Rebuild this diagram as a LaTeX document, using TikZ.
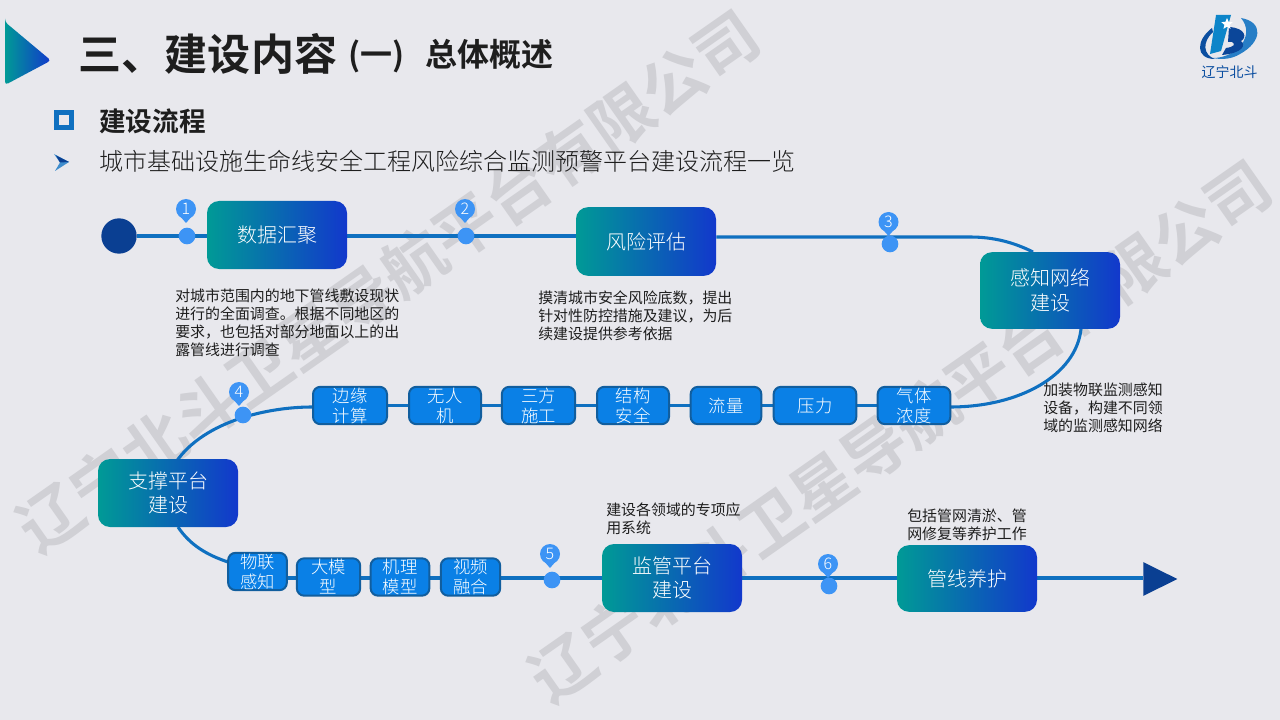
\documentclass[tikz,border=0pt]{standalone}
\usepackage{fontspec}
\setmainfont{Noto Sans CJK SC}[UprightFont=* Light,BoldFont=* Bold]
\newfontfamily\regfont{Noto Sans CJK SC}
\usetikzlibrary{shapes.geometric}
\definecolor{bgc}{HTML}{E8E8ED}
\definecolor{wmc}{HTML}{D0D0D5}
\definecolor{flowc}{HTML}{0F70C0}
\definecolor{teal1}{HTML}{009A96}
\definecolor{blue1}{HTML}{1238CC}
\definecolor{chip}{HTML}{0A80E6}
\definecolor{chipb}{HTML}{115E9E}
\definecolor{dotc}{HTML}{3D94F5}
\definecolor{navy}{HTML}{0A3F92}
\definecolor{ink}{HTML}{1E1E1E}
\pgfdeclarelayer{wm}
\pgfdeclarelayer{lines}
\pgfsetlayers{wm,lines,main}
\tikzset{
  x=0.75pt,y=-0.75pt,
  stage/.style={rounded corners=9pt,left color=teal1,right color=blue1,text=white,
    font=\fontsize{15}{18.5}\selectfont,align=center,inner sep=0pt,minimum width=105pt},
  chipbox/.style={rounded corners=5.5pt,fill=chip,draw=chipb,line width=1.5pt,text=white,
    font=\fontsize{13}{15}\selectfont,align=center,inner sep=0pt,minimum height=28pt},
  desc/.style={font=\regfont\fontsize{11.2}{13.5}\selectfont,text=ink,align=left,inner sep=0pt},
  flow/.style={draw=flowc,line width=2.3pt},
  dot/.style={circle,fill=dotc,minimum size=12.5pt,inner sep=0pt},
  numpin/.style={circle,fill=dotc,text=white,minimum size=15pt,inner sep=0pt,font=\fontsize{12}{12}\selectfont},
  mark wm/.style={font=\fontsize{47.5}{47.5}\bfseries\selectfont,text=wmc,rotate=35,inner sep=0pt},
}
\newcommand{\flowpin}[4]{% name, pin x,y ; number
  \fill[dotc] (#2-7,#3+6) -- (#2,#3+14) -- (#2+7,#3+6) -- cycle;
  \node[numpin] (#1) at (#2,#3) {#4};
}
\begin{document}
\begin{tikzpicture}
\useasboundingbox (0,0) rectangle (1280,720);
\begin{pgfonlayer}{wm}
\fill[bgc] (0,0) rectangle (1280,720);
\node[mark wm] (wm1) at (388,281) {辽宁北斗卫星导航平台有限公司};
\node[mark wm] (wm2) at (900,431) {辽宁北斗卫星导航平台有限公司};
\end{pgfonlayer}

% header
\path[left color=teal1,right color=blue1,rounded corners=2.5pt]
  (5,22) -- (5,22) -- (51,60.5) -- (5,85) -- cycle;
\node[anchor=west,inner sep=0pt,font=\fontsize{32.3}{32}\bfseries\selectfont,text=ink] (title) at (78.5,54) {三、建设内容};
\node[anchor=west,inner sep=0pt,font=\fontsize{24}{24}\bfseries\selectfont,text=ink] (title2) at (348,56) {(一)\hspace{16pt}总体概述};
\draw[line width=3.4pt,draw=flowc] (56.3,112.3) rectangle (71.7,127.7);
\node[anchor=west,inner sep=0pt,font=\fontsize{20}{20}\bfseries\selectfont,text=ink] (h2) at (99,121) {建设流程};
\fill[flowc!80!white] (54,154) -- (69,162) -- (55,171) -- (60,162.5) -- cycle;
\fill[navy] (56,155.5) -- (69,162) -- (60,162.5) -- cycle;
\node[anchor=west,inner sep=0pt,font=\fontsize{18}{18}\selectfont,text=ink] (h3) at (99,161) {城市基础设施生命线安全工程风险综合监测预警平台建设流程一览};

% logo
\fill[navy!70!flowc] (1212,28) .. controls (1196,40) and (1195,59) .. (1215,59)
  .. controls (1203,55) and (1202,42) .. (1213,32) -- cycle;
\fill[flowc!90!white] (1241,18) .. controls (1264,22) and (1262,42) .. (1240,54)
  .. controls (1232,59) and (1222,60) .. (1213,58)
  .. controls (1236,58) and (1256,36) .. (1241,18) -- cycle;
\fill[navy!85!flowc] (1229,27) .. controls (1246,28) and (1247,38) .. (1241,41)
  .. controls (1246,45) and (1243,53) .. (1222,55) -- (1226,48)
  .. controls (1234,47) and (1236,44) .. (1232,42) -- (1228,42) -- cycle;
\fill[flowc!85!cyan] (1216,15) -- (1231,15) -- (1221,51) -- (1210,54) -- cycle;
\node[star,star points=5,star point ratio=2.2,fill=white,minimum size=9pt,inner sep=0pt] (logostar) at (1227,24) {};
\node[inner sep=0pt,font=\regfont\fontsize{10.5}{11}\selectfont,text=navy!70!flowc] (logotext) at (1229.5,72) {辽宁北斗};

% process nodes
\node[circle,fill=navy,minimum size=26.5pt,inner sep=0pt] (start) at (119,236) {};
\node[stage,minimum height=51pt] (s1) at (277,235) {数据汇聚};
\node[stage,minimum height=51.5pt] (s2) at (646,241.5) {风险评估};
\node[stage,minimum height=57.5pt] (s3) at (1050,290.5) {感知网络\\建设};
\node[stage,minimum height=51pt] (s4) at (168,493) {支撑平台\\建设};
\node[stage,minimum height=51pt] (s5) at (672,578) {监管平台\\建设};
\node[stage,minimum height=50pt] (s6) at (967,578.5) {管线养护};
\node[isosceles triangle,isosceles triangle apex angle=53,fill=navy,inner sep=0pt,minimum height=25.5pt,anchor=west] (endtri) at (1143,579) {};

\node[chipbox,minimum width=55.5pt] (a1) at (350,405.5) {边缘\\计算};
\node[chipbox,minimum width=54pt] (a2) at (445,405.5) {无人\\机};
\node[chipbox,minimum width=55pt] (a3) at (538.5,405.5) {三方\\施工};
\node[chipbox,minimum width=54pt] (a4) at (633,405.5) {结构\\安全};
\node[chipbox,minimum width=53pt] (a5) at (726,405.5) {流量};
\node[chipbox,minimum width=62pt] (a6) at (815,405.5) {压力};
\node[chipbox,minimum width=54.5pt] (a7) at (914,405.5) {气体\\浓度};

\node[chipbox,minimum width=44pt] (b1) at (257.5,571.5) {物联\\感知};
\node[chipbox,minimum width=47.5pt] (b2) at (328.5,577) {大模\\型};
\node[chipbox,minimum width=44pt] (b3) at (400,577) {机理\\模型};
\node[chipbox,minimum width=44.5pt] (b4) at (470.5,577) {视频\\融合};

% connectors
\coordinate (r3) at (970,237);
\coordinate (r4) at (950,407);
\coordinate (r5) at (1081,329);
\coordinate (l1) at (312,407);
\coordinate (l2) at (176,462);
\coordinate (l3) at (178,527);
\coordinate (l4) at (228,562);
\begin{pgfonlayer}{lines}
\draw[flow] (start) -- (start -| s1.west);
\draw[flow] (s1.east |- start) -- (s2.west |- start);
\draw[flow] (s2.east |- 0,237) -- (r3) .. controls (995,237) and (1015,243) .. (1033,252);
\draw[flow] (r5) .. controls (1076,375) and (1020,407) .. (r4);
\draw[flow] (a7.west) -- (a1.east);
\draw[flow] (l1) .. controls (270,407) and (205,420) .. (l2);
\draw[flow] (l3) .. controls (190,545) and (207,555) .. (l4);
\draw[flow] (b1.east |- 0,578) -- (s5.west |- 0,578);
\draw[flow] (s5.east |- 0,578) -- (s6.west |- 0,578);
\draw[flow] (s6.east |- 0,578) -- (endtri.west |- 0,578);
\end{pgfonlayer}

% markers
\node[dot] (d1) at (187,236) {};
\node[dot] (d2) at (466,236) {};
\node[dot] (d3) at (890,244) {};
\node[dot] (d4) at (243,415) {};
\node[dot] (d5) at (552,580) {};
\node[dot] (d6) at (829,586) {};
\flowpin{p1}{186}{209}{1}
\flowpin{p2}{465}{209}{2}
\flowpin{p3}{888.5}{222}{3}
\flowpin{p4}{239}{392}{4}
\flowpin{p5}{550}{554}{5}
\flowpin{p6}{828}{564}{6}

% descriptions
\node[desc,anchor=north west] (t1) at (175,288.5) {对城市范围内的地下管线敷设现状\\进行的全面调查。根据不同地区的\\要求，也包括对部分地面以上的出\\露管线进行调查};
\node[desc,anchor=north west] (t2) at (538,290.5) {摸清城市安全风险底数，提出\\针对性防控措施及建议，为后\\续建设提供参考依据};
\node[desc,anchor=north west] (t3) at (1043,383) {加装物联监测感知\\设备，构建不同领\\域的监测感知网络};
\node[desc,anchor=north west] (t4) at (606,502.5) {建设各领域的专项应\\用系统};
\node[desc,anchor=north west] (t5) at (907,509) {包括管网清淤、管\\网修复等养护工作};
\end{tikzpicture}
\end{document}
